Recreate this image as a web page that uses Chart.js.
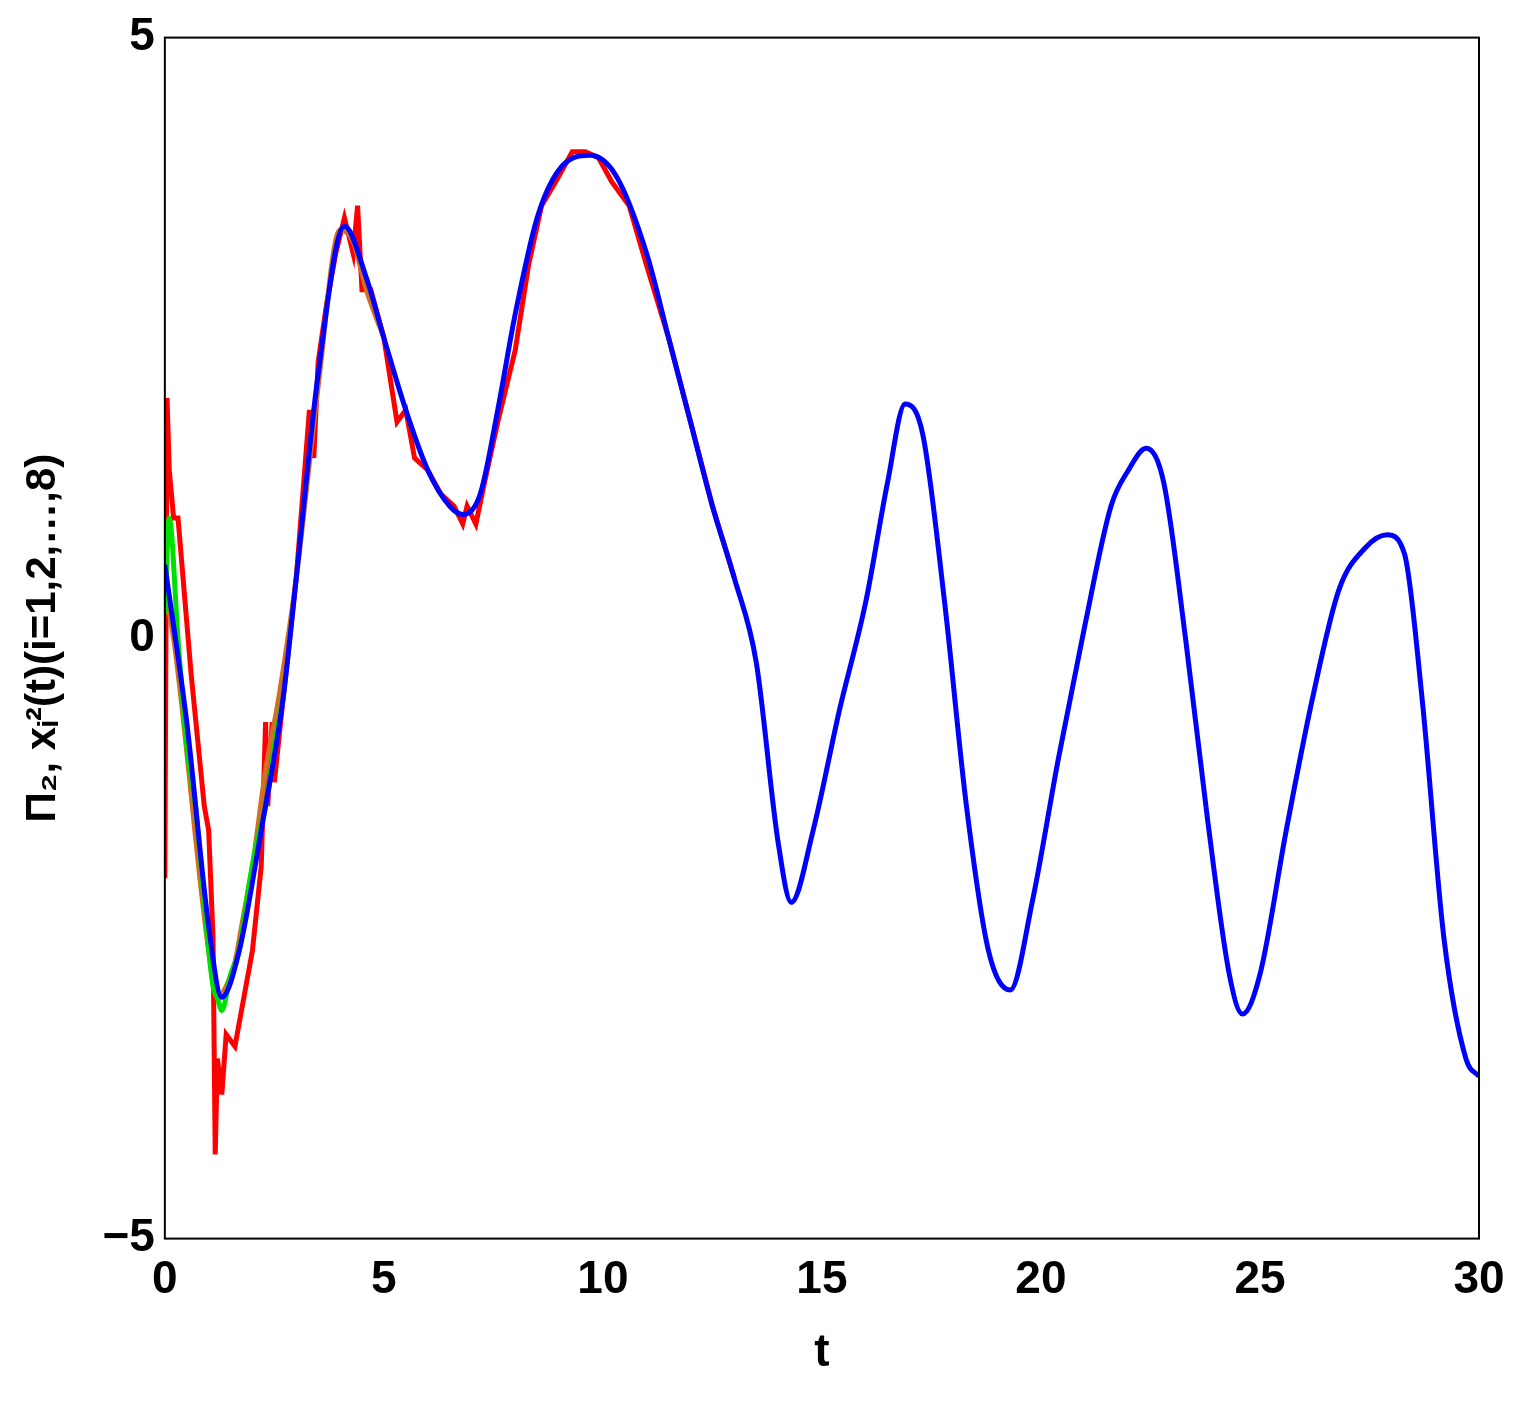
<!DOCTYPE html>
<html><head><meta charset="utf-8">
<script src="https://cdn.jsdelivr.net/npm/chart.js@4"></script>
<style>body{margin:0;background:#fff}#wrap{width:1519px;height:1408px}</style>
</head><body><div id="wrap"><canvas id="c"></canvas></div>
<script>
// blue (consensus) trajectory
const blueT = [0,0.5,1.0,1.3,1.7,2.2,2.7,3.0,3.5,4.1,4.6,5.0,5.5,6.0,6.5,6.8,7.2,7.6,8.0,8.5,9.0,9.7,10.3,11.0,11.5,12.0,12.5,13.0,13.5,14.0,14.3,14.8,15.4,16.0,16.5,16.9,17.3,17.8,18.3,18.8,19.3,19.8,20.4,21.0,21.6,22.0,22.4,22.8,23.3,23.8,24.3,24.6,25.0,25.6,26.2,26.8,27.4,27.9,28.3,28.7,29.2,29.7,30];
const blueY = [0.61,-0.7,-2.4,-2.99,-2.6,-1.6,-0.5,0.5,2.2,3.43,3.0,2.5,1.9,1.4,1.1,1.03,1.2,1.9,2.7,3.5,3.9,4.02,3.85,3.2,2.5,1.8,1.1,0.5,-0.2,-1.7,-2.2,-1.6,-0.6,0.3,1.3,1.95,1.7,0.3,-1.4,-2.6,-2.93,-2.2,-1.0,0.1,1.1,1.4,1.58,1.3,0.0,-1.5,-2.8,-3.13,-2.8,-1.6,-0.5,0.4,0.75,0.86,0.7,-0.5,-2.5,-3.5,-3.65];
// red (noisy agent)
const redT = [0,0.05,0.1,0.2,0.3,0.6,0.9,1.0,1.1,1.15,1.2,1.3,1.4,1.6,1.8,2.0,2.2,2.3,2.35,2.45,2.5,2.7,3.0,3.3,3.4,3.5,3.7,3.9,4.1,4.3,4.4,4.5,4.7,5.0,5.3,5.5,5.7,6.0,6.3,6.6,6.8,6.9,7.1,7.3,7.6,8.0,8.3,8.6,9.0,9.3,9.6,9.9,10.2,10.6,11.0,11.5,12.0,12.5,13.0];
const redY = [-2.0,2.0,1.4,1.0,1.0,-0.3,-1.4,-1.6,-2.5,-4.3,-3.5,-3.8,-3.3,-3.4,-3.0,-2.6,-1.9,-0.7,-1.4,-0.7,-1.2,-0.5,0.5,1.9,1.5,2.3,2.8,3.2,3.5,3.2,3.6,2.9,2.9,2.5,1.8,1.9,1.5,1.4,1.2,1.1,0.95,1.1,0.95,1.3,1.8,2.4,3.1,3.6,3.85,4.05,4.05,4.0,3.8,3.6,3.1,2.5,1.8,1.1,0.5];
// green (agent)
const greenT = [0,0.1,0.3,0.5,0.7,0.9,1.0,1.1,1.2,1.3,1.5,1.7,1.9,2.1,2.3,2.5,2.7];
const greenY = [0.2,1.0,0.0,-0.9,-1.4,-2.2,-2.6,-2.9,-3.0,-3.1,-2.8,-2.6,-2.1,-1.7,-1.4,-0.9,-0.5];
// orange (agent)
const orangeT = [0,0.2,0.4,0.6,0.8,1.0,1.2,1.4,1.6,1.8,2.0,2.3,2.6,3.0,3.5,4.0,4.3,4.6,5.0];
const orangeY = [0.4,0.0,-0.6,-1.3,-2.0,-2.6,-3.0,-2.9,-2.7,-2.3,-1.9,-1.1,-0.5,0.5,2.1,3.4,3.3,2.9,2.5];

const pts = (t, y) => t.map((v, i) => ({x: v, y: y[i]}));
const ds = (t, y, c, order, mode) => ({data: pts(t, y), borderColor: c, borderWidth: 5, pointRadius: 0,
  tension: mode ? 0.4 : 0, cubicInterpolationMode: mode ? 'monotone' : 'default', order, fill: false});

const frame = {id: 'frame', afterDraw(ch) {
  const a = ch.chartArea, g = ch.ctx;
  g.save(); g.strokeStyle = '#000'; g.lineWidth = 2;
  g.strokeRect(a.left, a.top, a.right - a.left, a.bottom - a.top);
  g.restore();
}};

const font = {family: '"Liberation Sans Narrow","Liberation Sans",sans-serif', weight: 'bold', size: 46};
new Chart(document.getElementById('c'), {
  type: 'line',
  data: {datasets: [ds(redT, redY, '#ff0000', 3, false), ds(orangeT, orangeY, '#d07020', 2, true), ds(greenT, greenY, '#00e000', 1, true), ds(blueT, blueY, '#0000ff', 0, true)]},
  options: {
    responsive: true, maintainAspectRatio: false, animation: false,
    layout: {padding: {top: 0, right: 40, left: 14, bottom: 23}},
    plugins: {legend: {display: false}, tooltip: {enabled: false}},
    scales: {
      x: {type: 'linear', min: 0, max: 30,
        ticks: {stepSize: 5, color: '#000', font, padding: 14},
        grid: {display: false, drawTicks: false}, border: {display: false},
        title: {display: true, text: 't', color: '#000', font}},
      y: {min: -5, max: 5,
        ticks: {stepSize: 5, color: '#000', font, padding: 10, callback: v => String(v).replace('-', '−')},
        grid: {display: false, drawTicks: false}, border: {display: false},
        title: {display: true, text: 'Π₂, xᵢ²(t)(i=1,2,…,8)', color: '#000', font: {...font, size: 42}, padding: {top: 4, bottom: 24}}}
    }
  },
  plugins: [frame]
});
</script></body></html>
